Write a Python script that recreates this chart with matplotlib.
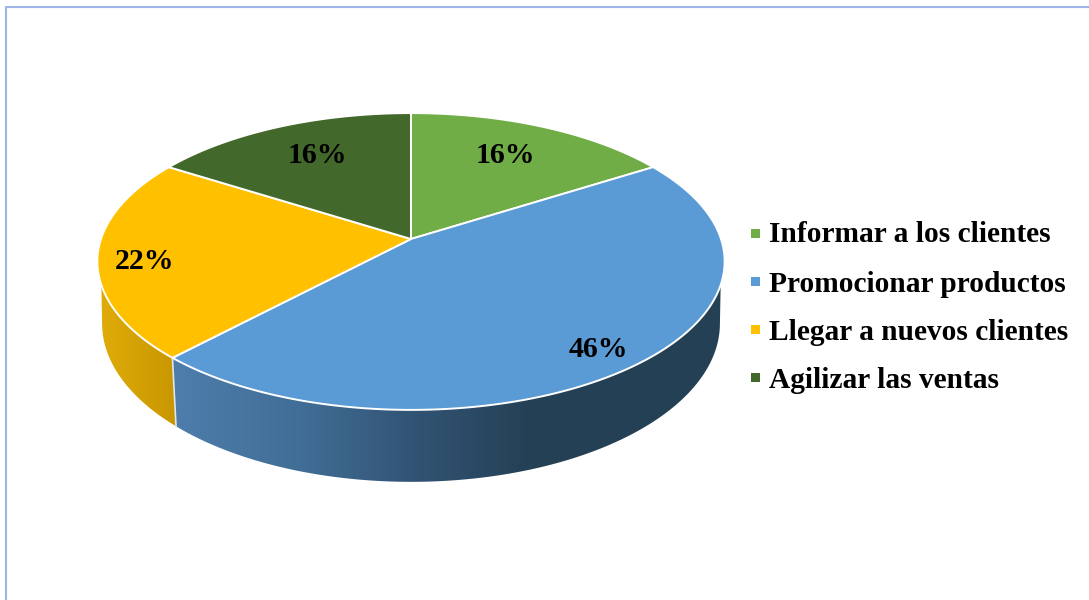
import numpy as np
import matplotlib
matplotlib.use("Agg")
import matplotlib.pyplot as plt
from matplotlib.patches import Polygon, Rectangle

labels = ["Informar a los clientes", "Promocionar productos",
          "Llegar a nuevos clientes", "Agilizar las ventas"]
values = [16, 46, 22, 16]
colors = ["#70AD47", "#5B9BD5", "#FFC000", "#43682B"]

plt.rcParams["font.family"] = ["Liberation Serif", "DejaVu Serif"]

W, H = 1089, 600
fig = plt.figure(figsize=(W / 100, H / 100), dpi=100)
ax = fig.add_axes([0, 0, 1, 1])

# perspective circle, fitted by eye to the picture
a = 0.1515


def rim(t, cx, cy, c, b):
    u = np.sin(t)
    v = np.cos(t)
    w = 1 + a * v
    return np.column_stack([cx + c * u / w, cy - b * v / w])


def top(t):
    return rim(t, 411, 239, 310, 145)


def bottom(t):
    return rim(t, 411, 299.5, 310 * 0.985, 145 * 1.067)


def side(t0, t1, b0, b1, xs, cols):
    # top rim t0..t1, then back along the bottom rim b1..b0
    pts = np.vstack([top(np.linspace(t0, t1, 200)), bottom(np.linspace(b1, b0, 200))])
    poly = Polygon(pts, closed=True, fc="none", ec="none")
    ax.add_patch(poly)
    x = np.arange(W)
    grad = np.column_stack([np.interp(x, xs, [c[i] for c in cols]) for i in range(3)]) / 255
    im = ax.imshow(grad[None, :, :], extent=(0, W, H, 0), aspect="auto", zorder=1)
    im.set_clip_path(poly)


edges = np.radians(np.cumsum([0] + values) * 3.6)

# only the two front slices show a wall; it starts where the rim is at y=285
side(np.radians(107.6), edges[2], np.radians(98.7), edges[2], [176, 300, 411, 530],
     [(78, 125, 172), (65, 110, 150), (50, 84, 117), (36, 64, 85)])
side(edges[2], np.radians(252.4), edges[2], np.radians(261.3), [100, 176],
     [(224, 172, 10), (200, 150, 0)])
p = np.vstack([top(edges[2:3]), bottom(edges[2:3])])
ax.plot(p[:, 0], p[:, 1], color="#dfe6ee", lw=1.2, zorder=2)

for i, col in enumerate(colors):
    t = np.linspace(edges[i], edges[i + 1], 200)
    pts = np.vstack([[[411, 239]], top(t)])
    ax.add_patch(Polygon(pts, closed=True, fc=col, ec="white", lw=1.4,
                         joinstyle="round", zorder=3))

# percent labels
label_x = [505.5, 598, 144, 317.5]
label_y = [155.5, 349.5, 261.5, 155.5]
for x, y, v in zip(label_x, label_y, values):
    ax.text(x, y, f"{v}%", fontsize=21.5, fontweight="bold", color="black",
            ha="center", va="center", zorder=4)

# legend
legend_y = [235, 284, 332, 380]
marker_y = [233, 281.5, 329.5, 377.5]
for ty, my, lab, col in zip(legend_y, marker_y, labels, colors):
    ax.add_patch(Rectangle((751, my - 4.5), 9, 9, fc=col, ec="none", zorder=4))
    ax.text(769, ty, lab, fontsize=21.2, fontweight="bold", color="black",
            ha="left", va="center", zorder=4)

# frame of the pasted chart
ax.plot([6, 6, W], [H, 7, 7], color="#9DB5E6", lw=1.5, zorder=5)

ax.set_xlim(0, W)
ax.set_ylim(H, 0)
ax.axis("off")
fig.savefig("out.png", dpi=100, facecolor="white")
